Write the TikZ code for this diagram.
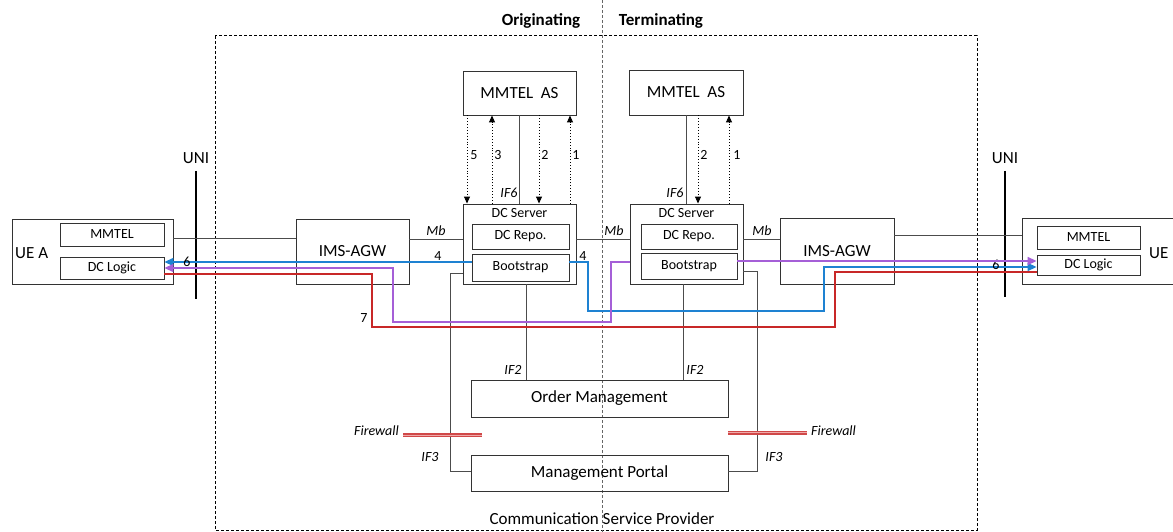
\documentclass[tikz,border=0pt]{standalone}
\usepackage{fontspec}
\setmainfont{Carlito}
\usetikzlibrary{arrows.meta}
\definecolor{cblue}{RGB}{30,130,210}
\definecolor{cpurple}{RGB}{165,95,215}
\definecolor{cred}{RGB}{200,40,40}
\definecolor{cpink}{RGB}{240,170,170}
\tikzset{
  box/.style={draw=black!80, line width=0.9pt, inner sep=0pt, font=\fontsize{17}{19}\selectfont},
  sbox/.style={draw=black!80, line width=0.9pt, inner sep=0pt, font=\fontsize{14}{16}\selectfont},
  conn/.style={draw=black!70, line width=0.9pt},
  sig/.style={draw=black, line width=0.9pt, dotted, -{Triangle[length=7pt,width=6pt]}},
  lab/.style={font=\fontsize{14}{16}\selectfont, inner sep=0pt},
  ilab/.style={font=\fontsize{14}{16}\selectfont\itshape, inner sep=0pt},
  big/.style={font=\fontsize{17}{19}\selectfont, inner sep=0pt},
  colarrow/.style={line width=1.6pt, -{Triangle[length=9pt,width=8pt]}},
  colline/.style={line width=1.6pt},
}
\begin{document}
\begin{tikzpicture}[x=1pt,y=-1pt]
\useasboundingbox (0,0) rectangle (1173,532);
\clip (0,0) rectangle (1173,532);
\fill[white] (0,0) rectangle (1173,532);

% outer CSP box and separator
\draw[black, line width=1pt, dash pattern=on 3pt off 2pt] (215,36) rectangle (977,530);
\draw[black!60, line width=0.8pt, dash pattern=on 3pt off 2pt] (602,0) -- (602,532);
\node[big, font=\fontsize{17}{19}\selectfont\bfseries] (orig) at (541,21) {Originating};
\node[big, font=\fontsize{17}{19}\selectfont\bfseries] (term) at (661,21) {Terminating};
\node[big] (csp) at (602,519) {Communication Service Provider};

% UNI lines
\node[big] (unil) at (196,158) {UNI};
\node[big] (unir) at (1005,158) {UNI};
\coordinate (unilt) at (196,171);
\coordinate (unilb) at (196,299);
\coordinate (unirt) at (1005,171);
\coordinate (unirb) at (1005,297);

% UE A
\node[box, minimum width=161pt, minimum height=65pt] (uea) at (92.5,251.5) {};
\node[big, anchor=west] (uealab) at (15,253) {UE A};
\node[sbox, minimum width=104pt, minimum height=23pt] (ueamm) at (112,234.5) {MMTEL};
\node[sbox, minimum width=104pt, minimum height=22pt] (ueadc) at (112,268) {DC Logic};

% UE B
\node[box, minimum width=168pt, minimum height=66pt] (ueb) at (1106,251) {};
\node[big, anchor=west] (ueblab) at (1149,253) {UE};
\node[sbox, minimum width=103pt, minimum height=23pt] (uebmm) at (1088.5,237.5) {MMTEL};
\node[sbox, minimum width=103pt, minimum height=20pt] (uebdc) at (1088.5,265) {DC Logic};

% IMS-AGW
\node[box, minimum width=113pt, minimum height=65pt] (agwl) at (352.5,251.5) {IMS-AGW};
\node[box, minimum width=114pt, minimum height=66pt] (agwr) at (837,251) {IMS-AGW};

% MMTEL AS
\node[box, minimum width=113pt, minimum height=44pt] (asl) at (519.5,93) {MMTEL\ \ AS};
\node[box, minimum width=114pt, minimum height=45pt] (asr) at (686,92.5) {MMTEL\ \ AS};

% DC Servers
\node[sbox, minimum width=113pt, minimum height=80pt] (dcsl) at (519.5,244) {};
\node[lab] (dcsllab) at (519.5,213) {DC Server};
\node[sbox, minimum width=97pt, minimum height=25pt] (repl) at (520.5,236.5) {DC Repo.};
\node[sbox, minimum width=97pt, minimum height=27pt] (bootl) at (520.5,267.5) {Bootstrap};

\node[sbox, minimum width=113pt, minimum height=80pt] (dcsr) at (686.5,244) {};
\node[lab] (dcsrlab) at (686.5,213) {DC Server};
\node[sbox, minimum width=96pt, minimum height=25pt] (repr) at (689,236.5) {DC Repo.};
\node[sbox, minimum width=96pt, minimum height=26pt] (bootr) at (689,266) {Bootstrap};

% Order management / portal
\node[box, minimum width=257pt, minimum height=37pt] (om) at (599.5,398.5) {Order Management};
\node[box, minimum width=257pt, minimum height=36pt] (mp) at (599.5,473) {Management Portal};

% UNI lines drawn
\draw[black, line width=1.2pt] (unilt) -- (unilb);
\draw[black, line width=1.2pt] (unirt) -- (unirb);

% horizontal connectors
\draw[conn] (uea.east |- 0,238) -- (agwl.west |- 0,238);
\draw[conn] (agwl.east |- 0,239) -- (dcsl.west |- 0,239);
\node[ilab] (mb1) at (436,231) {Mb};
\draw[conn] (dcsl.east |- 0,239) -- (dcsr.west |- 0,239);
\node[ilab] (mb2) at (614,231) {Mb};
\draw[conn] (dcsr.east |- 0,239) -- (agwr.west |- 0,239);
\node[ilab] (mb3) at (762,231) {Mb};
\draw[conn] (agwr.east |- 0,235) -- (ueb.west |- 0,235);

% MMTEL AS <-> DC Server (left)
\draw[sig] (asl.south -| 467,0) -- (dcsl.north -| 467,0);
\draw[sig] (dcsl.north -| 492,0) -- (asl.south -| 492,0);
\draw[conn] (asl.south -| 519,0) -- (dcsl.north -| 519,0);
\draw[sig] (asl.south -| 539,0) -- (dcsl.north -| 539,0);
\draw[sig] (dcsl.north -| 570,0) -- (asl.south -| 570,0);
\node[lab] (n5) at (474,155) {5};
\node[lab] (n3) at (498,155) {3};
\node[lab] (n2l) at (545,155) {2};
\node[lab] (n1l) at (576,155) {1};
\node[ilab] (if6l) at (509,193) {IF6};
% right
\draw[conn] (asr.south -| 686,0) -- (dcsr.north -| 686,0);
\draw[sig] (asr.south -| 698,0) -- (dcsr.north -| 698,0);
\draw[sig] (dcsr.north -| 729,0) -- (asr.south -| 729,0);
\node[lab] (n2r) at (704,155) {2};
\node[lab] (n1r) at (737,155) {1};
\node[ilab] (if6r) at (675,193) {IF6};

% IF2 lines
\draw[conn] (dcsl.south -| 526,0) -- (om.north -| 526,0);
\draw[conn] (dcsr.south -| 683,0) -- (om.north -| 683,0);
\node[ilab] (if2l) at (513,370) {IF2};
\node[ilab] (if2r) at (695,370) {IF2};

% IF3 lines
\draw[conn] (dcsl.west |- 0,273) -- (450,273) -- (450,471) -- (mp.west |- 0,471);
\draw[conn] (dcsr.east |- 0,271) -- (757,271) -- (757,471) -- (mp.east |- 0,471);
\node[ilab] (if3l) at (430,457) {IF3};
\node[ilab] (if3r) at (774,457) {IF3};

% Firewalls
\coordinate (fwl1) at (403,435);
\coordinate (fwl2) at (482,435);
\coordinate (fwr1) at (728,432.5);
\coordinate (fwr2) at (807,432.5);
\draw[cred!85, line width=4pt] (fwl1) -- (fwl2);
\draw[cpink, line width=1pt] (fwl1) -- (fwl2);
\draw[cred!85, line width=4pt] (fwr1) -- (fwr2);
\draw[cpink, line width=1pt] (fwr1) -- (fwr2);
\node[ilab, anchor=east] (fwlt) at (399,431) {Firewall};
\node[ilab, anchor=west] (fwrt) at (811,431) {Firewall};

% coloured flows
% red (7)
\draw[cred, colline] (ueadc.east |- 0,274) -- (372,274) -- (372,327) -- (835,327) -- (835,272) -- (uebdc.west |- 0,272);
\node[lab] (n7) at (364,318) {7};
% blue (4, 6)
\draw[cblue, colarrow] (bootl.west |- 0,262) -- (ueadc.east |- 0,262);
\draw[cblue, colarrow] (bootl.east |- 0,262) -- (588,262) -- (588,311) -- (824,311) -- (824,267) -- (uebdc.west |- 0,267);
\node[lab] (n4a) at (438,256) {4};
\node[lab] (n4b) at (583,256) {4};
\node[lab] (n6a) at (187,262) {6};
\node[lab] (n6b) at (996,265) {6};
% purple
\draw[cpurple, colarrow] (dcsr.west |- 0,262) -- (611,262) -- (611,322) -- (393,322) -- (393,268) -- (ueadc.east |- 0,268);
\draw[cpurple, colarrow] (bootr.east |- 0,261) -- (uebdc.west |- 0,261);
\end{tikzpicture}
\end{document}
